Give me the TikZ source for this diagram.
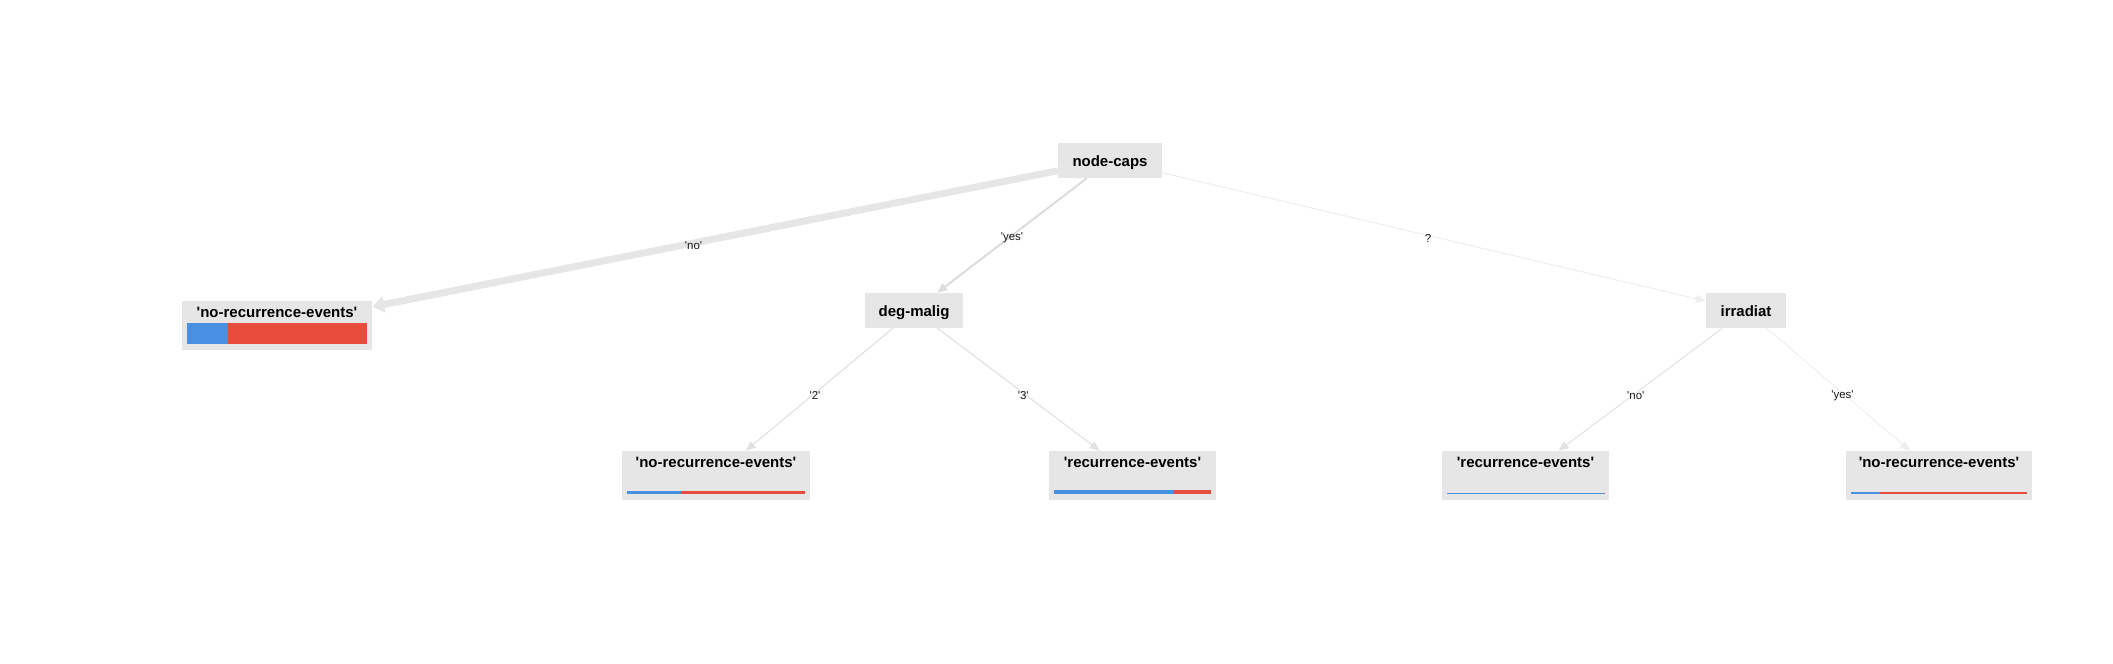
\documentclass[tikz,border=0pt]{standalone}
\usepackage{fontspec}
\setmainfont{Liberation Sans}
\usetikzlibrary{arrows.meta,calc}
\definecolor{boxgray}{RGB}{230,230,230}
\definecolor{edgemid}{RGB}{220,220,220}
\definecolor{edgegray}{RGB}{226,226,226}
\definecolor{edgelight}{RGB}{238,238,238}
\definecolor{barblue}{RGB}{74,144,226}
\definecolor{barred}{RGB}{232,76,61}
\newcommand\q{\textquotesingle}
\newcommand\drawbar[3]{%
  \path (#1.south west) ++(5,-6) coordinate (#1-a);
  \path (#1.south east) ++(-5,-6) coordinate (#1-b);
  \fill[barblue] (#1-a) rectangle ($(#1-a)!#2!(#1-b)+(0,-#3)$);
  \fill[barred] ($(#1-a)!#2!(#1-b)$) rectangle ($(#1-b)+(0,-#3)$);
}
\begin{document}
\begin{tikzpicture}[x=1pt,y=-1pt,
  innerbox/.style={fill=boxgray, inner sep=0pt, text height=23pt, text depth=12pt,
    font=\fontsize{15}{18}\selectfont\bfseries},
  leafbox/.style={fill=boxgray, inner sep=0pt, text height=16pt, text depth=33pt,
    font=\fontsize{15}{18}\selectfont\bfseries},
  edge/.style={draw=edgegray, line width=1.2pt, -{Triangle[length=10pt,width=8pt]}},
  elab/.style={font=\fontsize{11.5}{13}\selectfont, text=black!90, inner sep=1pt, yshift=-2.5pt},
]
\useasboundingbox (0,0) rectangle (2113,664);

% internal nodes
\node[innerbox, minimum width=104pt] (caps) at (1110,160.5) {node-caps};
\node[innerbox, minimum width=98pt] (deg) at (914,310.5) {deg-malig};
\node[innerbox, minimum width=80pt] (irr) at (1746,310.5) {irradiat};

% leaves
\node[leafbox, minimum width=190pt] (l1) at (277,325.5) {\q no-recurrence-events\q};
\node[leafbox, minimum width=188pt] (l2) at (716,475.5) {\q no-recurrence-events\q};
\node[leafbox, minimum width=167pt] (l3) at (1132.5,475.5) {\q recurrence-events\q};
\node[leafbox, minimum width=167pt] (l4) at (1525.5,475.5) {\q recurrence-events\q};
\node[leafbox, minimum width=186pt] (l5) at (1939,475.5) {\q no-recurrence-events\q};

% class bars
\drawbar{l1}{0.23}{21}
\drawbar{l2}{0.306}{3}
\drawbar{l3}{0.765}{4}
\drawbar{l4}{0.999}{1.5}
\drawbar{l5}{0.167}{2}

% edges
\draw[edge, draw=boxgray, line width=7pt, -{Triangle[length=12pt,width=16pt]}] (caps) -- (l1);
\draw[edge, draw=edgemid, line width=2pt] (caps) -- (deg);
\draw[edge, draw=edgelight, line width=1pt] (caps) -- (irr);
\draw[edge] (deg) -- (l2);
\draw[edge] (deg) -- (l3);
\draw[edge, line width=1pt] (irr) -- (l4);
\draw[edge, draw=edgelight, line width=1pt] (irr) -- (l5);

% edge labels
\node[elab] at ($(caps)!0.5!(l1)$) {\q no\q};
\node[elab] at ($(caps)!0.5!(deg)$) {\q yes\q};
\node[elab] at ($(caps)!0.5!(irr)$) {?};
\node[elab] at ($(deg)!0.5!(l2)$) {\q 2\q};
\node[elab] at ($(deg)!0.5!(l3)$) {\q 3\q};
\node[elab] at ($(irr)!0.5!(l4)$) {\q no\q};
\node[elab] at ($(irr)!0.5!(l5)$) {\q yes\q};
\end{tikzpicture}
\end{document}
